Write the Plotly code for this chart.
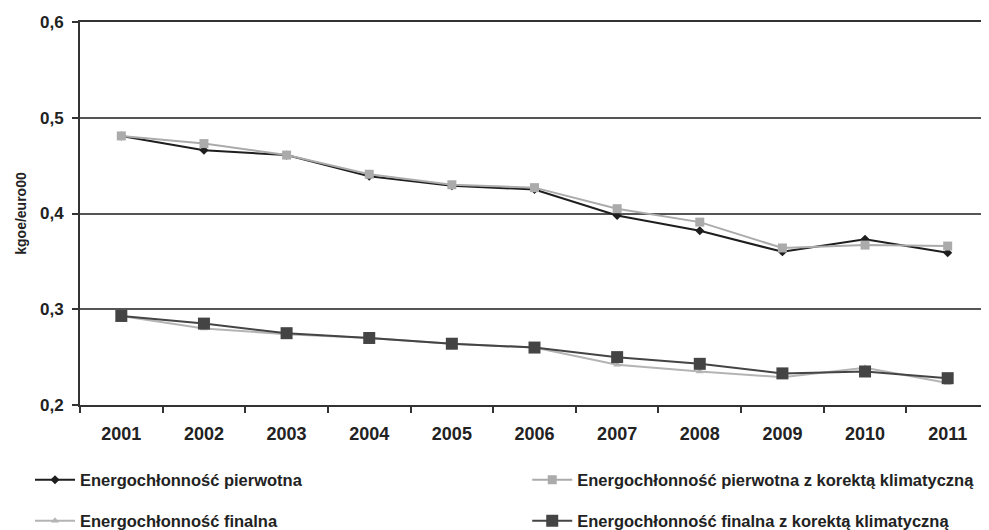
import plotly.graph_objects as go

years = ["2001", "2002", "2003", "2004", "2005", "2006", "2007", "2008", "2009", "2010", "2011"]
pierwotna = [0.481, 0.466, 0.461, 0.439, 0.429, 0.425, 0.398, 0.382, 0.360, 0.373, 0.359]
pierwotna_kor = [0.481, 0.473, 0.461, 0.441, 0.430, 0.427, 0.405, 0.391, 0.364, 0.367, 0.366]
finalna = [0.293, 0.280, 0.274, 0.270, 0.264, 0.260, 0.242, 0.235, 0.229, 0.239, 0.223]
finalna_kor = [0.293, 0.285, 0.275, 0.270, 0.264, 0.260, 0.250, 0.243, 0.233, 0.235, 0.228]

names = [
    "Energochłonność pierwotna",
    "Energochłonność pierwotna z korektą klimatyczną",
    "Energochłonność finalna",
    "Energochłonność finalna z korektą klimatyczną",
]

FONT = "Liberation Sans, Arial, sans-serif"

fig = go.Figure()
fig.add_trace(go.Scatter(x=years, y=pierwotna, name=names[0], mode="lines+markers",
                         line=dict(color="#1e1e1e", width=2),
                         marker=dict(symbol="diamond", size=7, color="#1e1e1e"),
                         legend="legend", showlegend=True))
fig.add_trace(go.Scatter(x=years, y=pierwotna_kor, name=names[1], mode="lines+markers",
                         line=dict(color="#ababab", width=2),
                         marker=dict(symbol="square", size=9, color="#ababab"),
                         legend="legend2", showlegend=True))
fig.add_trace(go.Scatter(x=years, y=finalna, name=names[2], mode="lines+markers",
                         line=dict(color="#b4b4b4", width=2),
                         marker=dict(symbol="triangle-up", size=7, color="#b4b4b4"),
                         legend="legend3", showlegend=True))
fig.add_trace(go.Scatter(x=years, y=finalna_kor, name=names[3], mode="lines+markers",
                         line=dict(color="#444444", width=2),
                         marker=dict(symbol="square", size=12, color="#444444"),
                         legend="legend4", showlegend=True))

legend_common = dict(
    orientation="h", xanchor="left", yanchor="middle", visible=True,
    font=dict(family=FONT, size=16.5, color="#222", weight="bold"),
    bgcolor="rgba(0,0,0,0)", itemwidth=40,
)

row1, row2 = -0.196, -0.303
col1, col2 = -0.055, 0.492

# The page body has an 8px margin, so the figure is sized to fit the window exactly.
fig.update_layout(
    width=981, height=522,
    margin=dict(l=72, r=0, t=14, b=125, autoexpand=False),
    showlegend=True,
    paper_bgcolor="white", plot_bgcolor="white",
    separators=", ",
    font=dict(family=FONT, color="#222"),
    legend=dict(legend_common, x=col1, y=row1),
    legend2=dict(legend_common, x=col2, y=row1),
    legend3=dict(legend_common, x=col1, y=row2),
    legend4=dict(legend_common, x=col2, y=row2),
    xaxis=dict(
        type="category", showgrid=False, showline=True, linecolor="#333", linewidth=2,
        mirror=True,
        ticks="outside", tickson="boundaries", ticklen=6, tickcolor="#333", tickwidth=2,
        tickfont=dict(family=FONT, size=18, color="#222", weight="bold"),
        ticklabelstandoff=11,
        range=[-0.5, 10.5], automargin=False,
    ),
    yaxis=dict(
        range=[0.2, 0.6], dtick=0.1, tickformat=".1f",
        showgrid=True, gridcolor="#555", gridwidth=2,
        showline=True, linecolor="#333", linewidth=2,
        ticks="outside", ticklen=6, tickcolor="#333", tickwidth=2,
        tickfont=dict(family=FONT, size=17, color="#222", weight="bold"),
        ticklabelstandoff=5,
        title=dict(text="kgoe/euro00", font=dict(family=FONT, size=14, color="#222", weight="bold"),
                   standoff=10),
        zeroline=False, automargin=False,
    ),
)

fig.write_html("out.html")
